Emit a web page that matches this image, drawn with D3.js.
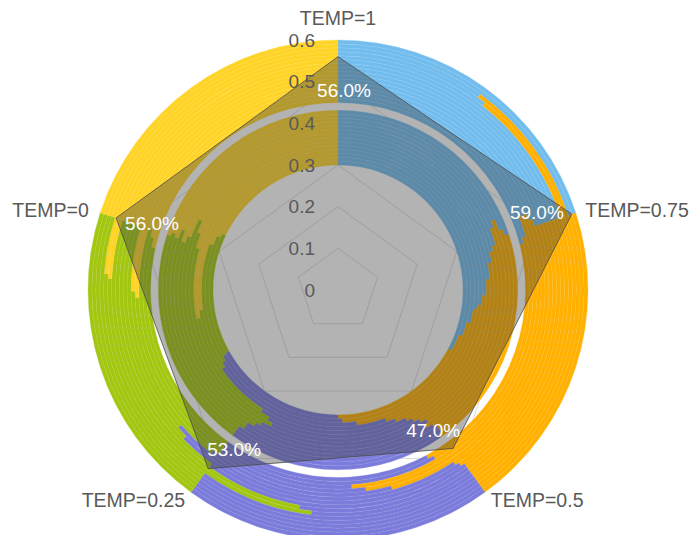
<!DOCTYPE html>
<html lang="en">
<head>
<meta charset="UTF-8">
<title>TEMP radar over doughnut</title>
<script src="https://d3js.org/d3.v7.min.js"></script>
<style>
  body { margin: 0; background: #fff; }
  svg text { font-family: "Liberation Sans", Arial, sans-serif; }
</style>
</head>
<body>
<div id="chart"></div>
<script>
// radar series
const categories = ["TEMP=1", "TEMP=0.75", "TEMP=0.5", "TEMP=0.25", "TEMP=0"];
const accuracy = [0.56, 0.59, 0.47, 0.53, 0.56];
const ticks = [0, 0.1, 0.2, 0.3, 0.4, 0.5, 0.6];

// doughnut rings, share of each colour in %, innermost ring first
// 14 inner rings, then 16 outer rings
const blueShare   = [32.8,30.6,28.9,27.2,26.7,25.6,23.9,22.2,21.1,20.6,18.9,18.3,19.4,20,
                     21.1,20.6,18.9,18.9,19.4,20,20,20,20,20,20,20,10.6,10,20,20];
const orangeShare = [17.2,18.9,18.9,17.2,16.7,16.7,17.8,18.9,19.4,20.3,21.4,21.7,20.6,20.3,
                     21.1,21.1,30,28.9,26.4,20.6,20.3,20,20,20,20,20,29.4,30,20,20];
const purpleShare = [16.9,17.2,18.3,21.1,15.6,15.6,15.6,17.2,18.3,18.6,19.2,20,20,19.7,
                     17.8,18.3,11.1,12.2,14.7,23.1,22.5,20,12.8,11.9,20,20,20,20,20,20];
const greenShare  = [15.3,15.0,14.4,7.2,12.8,21.7,23.9,24.2,21.7,20.3,21.4,20,20.3,20,
                     18.6,19.4,20,14.4,14.4,16.3,17.2,20,27.2,28.1,15.8,16.1,20,20,20,20];
const yellowShare = [17.8,18.3,19.5,27.3,28.2,20.4,18.8,17.5,19.5,20.2,19.1,20,19.7,20,
                     21.4,20.6,20,25.6,25.1,20,20,20,20,20,24.2,23.9,20,20,20,20];
const innerRings = 14, gapRings = 2;

const colors = ["#72BDED", "#FFB000", "#7B7BDB", "#A3C611", "#FFD426"];

const width = 691, height = 535;
const cx = 338, cy = 290;

const svg = d3.select("#chart").append("svg")
    .attr("width", width)
    .attr("height", height);

const g = svg.append("g").attr("transform", `translate(${cx},${cy})`);

const r = d3.scaleLinear().domain([0, 0.6]).range([0, 250]);
const angle = d3.scaleLinear().domain([0, categories.length]).range([0, 2 * Math.PI]);

// gridlines (behind the doughnut)
const grid = d3.lineRadial()
    .angle((d, i) => angle(i))
    .radius(d => d)
    .curve(d3.curveLinearClosed);

g.selectAll("path.grid")
    .data(ticks.slice(1))
    .join("path")
    .attr("class", "grid")
    .attr("d", t => grid(categories.map(() => r(t))))
    .attr("fill", "none")
    .attr("stroke", "#d4d4d4")
    .attr("stroke-width", 0.8);

// doughnut rings
const nRings = blueShare.length;
const ringW = (r(0.6) - r(0.3)) / (nRings + gapRings);
const pie = d3.pie().sort(null).value(d => d);
const arc = d3.arc();

const rings = d3.range(nRings).map(i => {
    const slot = i + (i >= innerRings ? gapRings : 0);
    return {
        inner: r(0.3) + slot * ringW,
        outer: r(0.3) + (slot + 1) * ringW,
        values: [blueShare[i], orangeShare[i], purpleShare[i], greenShare[i], yellowShare[i]]
    };
});

const ringG = g.selectAll("g.ring")
    .data(rings)
    .join("g")
    .attr("class", "ring");

ringG.selectAll("path")
    .data(d => pie(d.values).map((p, k) => ({...p, k, inner: d.inner, outer: d.outer})))
    .join("path")
    .attr("d", d => arc({
        innerRadius: d.inner, outerRadius: d.outer,
        startAngle: d.startAngle, endAngle: d.endAngle
    }))
    .attr("fill", d => colors[d.k])
    .attr("stroke", d => colors[d.k])
    .attr("stroke-width", 0.3);

// faint ring seams
g.selectAll("circle.seam")
    .data(rings)
    .join("circle")
    .attr("class", "seam")
    .attr("r", d => d.outer)
    .attr("fill", "none")
    .attr("stroke", "rgba(255,255,255,0.14)")
    .attr("stroke-width", 0.5);

// radar polygon
const radar = d3.lineRadial()
    .angle((d, i) => angle(i))
    .radius(d => r(d))
    .curve(d3.curveLinearClosed);

g.append("path")
    .attr("d", radar(accuracy))
    .attr("fill", "rgba(60,60,60,0.39)")
    .attr("stroke", "#4a4a4a")
    .attr("stroke-width", 0.8);

// value axis labels
g.selectAll("text.tick")
    .data(ticks)
    .join("text")
    .attr("class", "tick")
    .attr("x", -23)
    .attr("y", d => -r(d))
    .attr("dy", "0.35em")
    .attr("text-anchor", "end")
    .attr("font-size", 19)
    .attr("fill", "#595959")
    .text(d => d);

// data labels, offsets from the vertex
const labelOffset = [
    {dx: 6, dy: 40, anchor: "middle"},
    {dx: -8, dy: 5, anchor: "end"},
    {dx: 7, dy: -11, anchor: "end"},
    {dx: -1, dy: -13, anchor: "start"},
    {dx: 9, dy: 12, anchor: "start"}
];

g.selectAll("text.value")
    .data(accuracy)
    .join("text")
    .attr("class", "value")
    .each(function(d, i) {
        const [x, y] = d3.pointRadial(angle(i), r(d));
        const o = labelOffset[i];
        d3.select(this)
            .attr("x", x + o.dx)
            .attr("y", y + o.dy)
            .attr("text-anchor", o.anchor);
    })
    .attr("font-size", 19)
    .attr("fill", "#ffffff")
    .text(d => (d * 100).toFixed(1) + "%");

// category labels
const catAnchor = ["middle", "start", "start", "end", "end"];
g.selectAll("text.cat")
    .data(categories)
    .join("text")
    .attr("class", "cat")
    .each(function(d, i) {
        const [x, y] = d3.pointRadial(angle(i), 260);
        d3.select(this)
            .attr("x", i === 4 ? x - 2 : x)
            .attr("y", i === 0 ? y - 5 : y + 7)
            .attr("text-anchor", catAnchor[i]);
    })
    .attr("font-size", 19.5)
    .attr("fill", "#595959")
    .text(d => d);
</script>
</body>
</html>
